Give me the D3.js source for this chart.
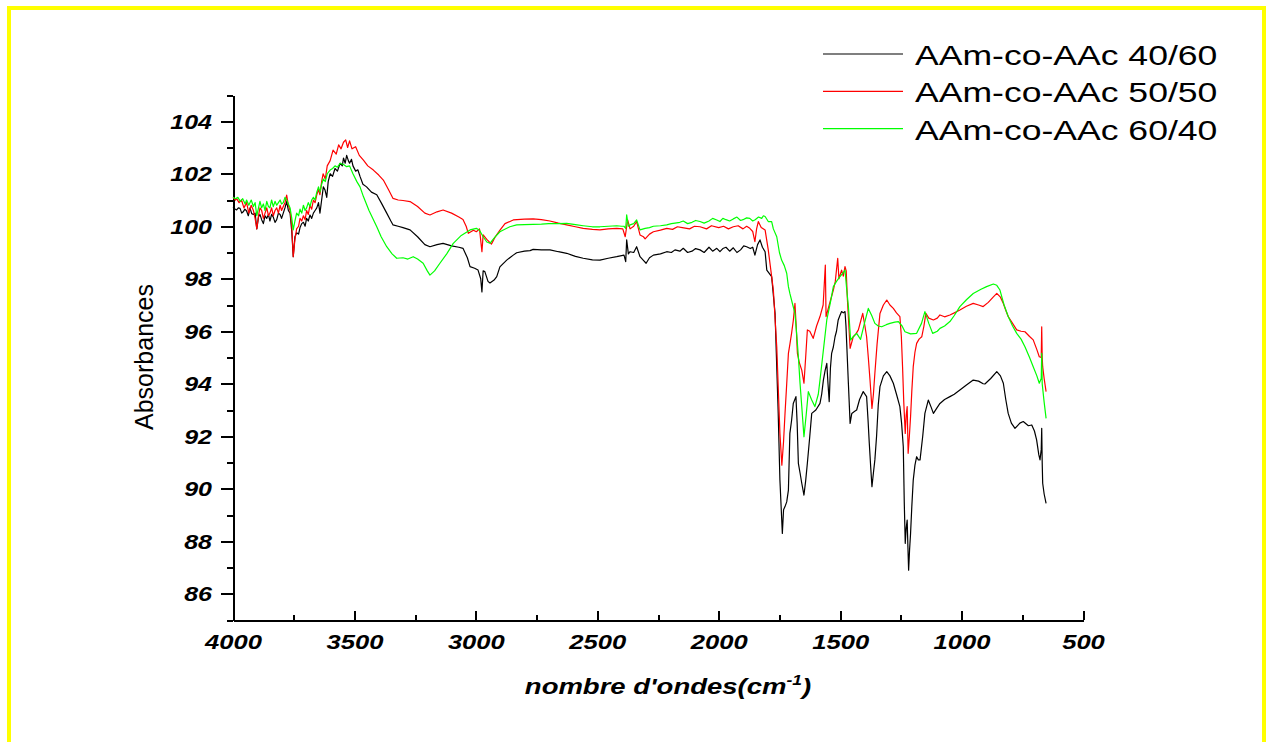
<!DOCTYPE html>
<html>
<head>
<meta charset="utf-8">
<script src="https://d3js.org/d3.v7.min.js"></script>
<style>
	html, body {
		margin: 0;
		padding: 0;
		background: #fff;
	}
	svg {
		display: block;
		font-family: 'Liberation Sans', Arial, sans-serif;
	}
	.axis path, .axis line {
		stroke: #000;
		stroke-width: 2px;
		shape-rendering: crispEdges;
	}
	.tick-label {
		font-weight: bold;
		font-style: italic;
		fill: #000;
	}
	.spectrum {
		fill: none;
		stroke-width: 1.2px;
		stroke-linejoin: round;
	}
</style>
</head>
<body>
<script>

// FTIR spectra, [wavenumber (cm-1), absorbance]
var seriesNames = ["AAm-co-AAc 40/60", "AAm-co-AAc 50/50", "AAm-co-AAc 60/40"];
var seriesColors = ["#000000", "#ff0000", "#00ff00"];

var spec40_60 = [
	[4000,100.72],[3992,100.66],[3985,100.62],[3978,100.7],[3971,100.68],[3964,100.5],[3958,100.55],[3951,100.65],[3944,100.58],[3937,100.4],
	[3930,100.7],[3923,100.48],[3916,100.45],[3909,100.5],[3902,99.9],[3895,100.35],[3889,100.45],[3882,100.25],[3875,100.1],[3868,100.4],
	[3861,100.3],[3854,100.45],[3848,100.2],[3841,100.45],[3834,100.35],[3827,100.15],[3820,100.25],[3813,100.5],[3806,100.45],[3800,100.3],
	[3793,100.5],[3786,100.7],[3779,100.95],[3772,100.6],[3765,100.5],[3758,99.8],[3752,98.84],[3745,99.6],[3738,99.75],[3730,99.7],
	[3724,99.95],[3717,100.1],[3710,100.15],[3703,100.0],[3697,100.3],[3690,100.2],[3683,100.43],[3676,100.3],[3669,100.5],[3662,100.6],
	[3655,100.7],[3648,100.9],[3642,100.5],[3635,101.0],[3628,101.5],[3621,101.38],[3614,101.1],[3608,101.7],[3600,102.0],[3590,101.9],
	[3580,102.2],[3570,102.1],[3559,102.4],[3550,102.3],[3545,102.6],[3538,102.4],[3532,102.7],[3525,102.5],[3520,102.4],[3512,102.55],
	[3506,102.3],[3495,102.1],[3486,102.15],[3477,101.9],[3465,101.6],[3450,101.5],[3430,101.3],[3408,101.2],[3390,100.9],[3367,100.5],
	[3350,100.2],[3341,100.05],[3320,100.0],[3300,99.95],[3271,99.86],[3240,99.6],[3210,99.3],[3189,99.22],[3160,99.3],[3135,99.35],
	[3100,99.25],[3070,99.2],[3053,99.16],[3035,98.8],[3024,98.46],[3005,98.4],[2991,98.33],[2980,98.0],[2975,97.5],[2970,98.3],
	[2963,98.27],[2950,97.9],[2942,97.84],[2925,97.95],[2914,98.08],[2901,98.45],[2873,98.71],[2846,98.9],[2832,98.99],[2800,99.05],
	[2777,99.07],[2764,99.12],[2730,99.1],[2695,99.1],[2660,99.03],[2626,98.97],[2590,98.85],[2558,98.78],[2520,98.72],[2489,98.71],
	[2455,98.78],[2420,98.84],[2400,98.88],[2390,98.9],[2383,98.65],[2379,99.48],[2372,98.95],[2365,99.03],[2350,99.0],[2338,99.22],
	[2324,98.84],[2310,98.7],[2299,98.59],[2285,98.8],[2269,98.9],[2240,98.95],[2214,99.03],[2195,99.0],[2180,99.1],[2160,99.05],
	[2146,99.16],[2128,99.0],[2110,99.05],[2095,99.15],[2077,99.1],[2060,99.0],[2040,99.2],[2025,99.05],[2008,99.16],[1995,99.03],
	[1983,99.15],[1970,99.2],[1955,99.05],[1940,99.18],[1925,99.0],[1910,99.1],[1897,99.25],[1885,99.22],[1870,99.15],[1860,99.2],
	[1851,98.9],[1840,99.3],[1830,99.48],[1820,99.2],[1809,99.03],[1802,98.33],[1782,98.08],[1768,96.68],[1755,92.87],[1748,90.33],
	[1738,88.3],[1733,89.2],[1727,89.32],[1720,89.5],[1713,89.95],[1707,92.11],[1700,92.6],[1693,93.25],[1682,93.51],[1677,92.5],
	[1672,90.97],[1665,90.6],[1658,90.21],[1649,89.76],[1642,90.3],[1635,90.97],[1625,92.0],[1617,92.87],[1600,93.0],[1583,93.25],
	[1576,93.6],[1569,94.14],[1562,94.5],[1555,94.78],[1550,94.0],[1545,93.32],[1540,94.6],[1535,95.16],[1528,95.4],[1521,95.79],
	[1515,96.0],[1508,96.43],[1501,96.6],[1494,96.75],[1487,96.7],[1480,96.75],[1476,96.2],[1473,95.54],[1466,94.0],[1459,92.49],
	[1452,92.87],[1440,92.95],[1432,93.0],[1420,93.4],[1405,93.7],[1391,93.51],[1385,92.6],[1380,91.73],[1374,90.8],[1369,90.08],
	[1363,90.6],[1357,91.1],[1350,92.0],[1343,93.2],[1336,93.89],[1322,94.3],[1308,94.46],[1295,94.3],[1281,94.02],[1268,93.6],
	[1254,93.13],[1247,92.5],[1240,91.6],[1236,89.5],[1232,87.92],[1228,88.5],[1224,88.81],[1221,87.8],[1218,86.9],[1214,87.7],
	[1210,88.3],[1205,89.3],[1199,90.33],[1192,90.9],[1185,91.22],[1178,91.1],[1171,91.1],[1160,92.0],[1151,92.87],[1137,93.38],
	[1125,93.1],[1116,92.87],[1100,93.1],[1089,93.25],[1070,93.4],[1048,93.51],[1030,93.6],[1007,93.76],[980,93.95],[952,94.14],
	[930,94.1],[911,94.0],[904,93.99],[880,94.2],[855,94.46],[840,94.3],[828,94.02],[818,93.4],[808,92.87],[795,92.5],
	[780,92.3],[760,92.5],[746,92.56],[725,92.4],[711,92.43],[700,92.2],[691,91.86],[682,91.3],[677,91.1],[672,91.5],
	[670,92.3],[668,91.0],[666,90.21],[660,89.8],[652,89.44]
];

var spec50_50 = [
	[4000,101.1],[3990,101.0],[3985,101.05],[3975,100.9],[3965,101.0],[3955,100.7],[3944,100.9],[3935,100.5],[3925,100.8],[3916,100.6],
	[3909,100.3],[3902,99.9],[3895,100.4],[3889,100.7],[3882,100.6],[3875,100.3],[3868,100.5],[3861,100.7],[3854,100.4],[3848,100.5],
	[3841,100.7],[3834,100.4],[3827,100.6],[3820,100.7],[3813,100.5],[3806,100.8],[3800,100.6],[3793,100.75],[3786,100.9],[3779,101.19],
	[3772,100.8],[3765,100.6],[3758,100.0],[3752,98.84],[3745,99.5],[3738,99.9],[3730,100.0],[3724,100.3],[3717,100.2],[3710,100.4],
	[3703,100.25],[3697,100.6],[3690,100.45],[3683,100.8],[3676,100.65],[3669,101.0],[3662,100.9],[3655,101.2],[3648,101.4],[3642,101.2],
	[3635,101.7],[3629,102.0],[3620,101.8],[3612,102.3],[3600,102.5],[3588,102.9],[3575,102.75],[3565,103.1],[3555,102.95],[3545,103.2],
	[3536,103.29],[3528,103.0],[3520,103.25],[3510,102.95],[3495,103.03],[3480,102.7],[3463,102.52],[3445,102.3],[3422,102.14],[3400,101.95],
	[3381,101.76],[3360,101.4],[3341,101.06],[3320,101.0],[3300,100.98],[3271,100.94],[3240,100.75],[3210,100.5],[3189,100.43],[3160,100.55],
	[3135,100.62],[3100,100.5],[3070,100.35],[3053,100.26],[3040,100.0],[3031,99.73],[3010,99.85],[2998,99.79],[2985,99.9],[2975,99.03],
	[2970,99.67],[2955,99.5],[2936,99.32],[2920,99.6],[2900,99.86],[2880,100.1],[2846,100.24],[2800,100.27],[2764,100.28],[2730,100.25],
	[2695,100.2],[2660,100.12],[2626,100.05],[2590,99.98],[2558,99.92],[2520,99.88],[2489,99.86],[2455,99.9],[2420,99.92],[2395,99.9],
	[2385,99.6],[2375,100.24],[2365,99.9],[2350,100.0],[2338,100.18],[2324,99.67],[2310,99.6],[2303,99.52],[2285,99.7],[2269,99.79],
	[2240,99.85],[2214,99.92],[2190,99.88],[2170,99.98],[2150,99.95],[2120,99.9],[2100,100.0],[2077,99.98],[2050,99.9],[2030,100.02],
	[2000,99.95],[1980,100.0],[1960,99.9],[1940,99.98],[1920,100.02],[1900,99.9],[1885,100.0],[1872,99.92],[1860,99.8],[1851,99.41],
	[1844,99.9],[1837,100.18],[1825,99.95],[1809,99.86],[1796,99.1],[1785,98.3],[1775,97.57],[1761,95.41],[1748,92.11],[1740,90.9],
	[1733,91.8],[1727,92.87],[1720,94.0],[1713,95.16],[1707,95.5],[1700,95.92],[1693,96.4],[1686,97.06],[1681,96.2],[1676,95.16],
	[1668,94.8],[1658,94.52],[1649,94.02],[1642,95.0],[1635,96.05],[1625,96.0],[1611,95.73],[1597,96.2],[1583,96.56],[1570,97.0],
	[1561,98.52],[1558,96.56],[1545,97.0],[1528,97.57],[1520,97.9],[1510,98.78],[1505,98.0],[1494,98.33],[1487,98.1],[1480,98.46],
	[1475,98.3],[1470,97.19],[1459,95.35],[1446,95.79],[1435,95.9],[1425,96.05],[1415,96.4],[1407,96.68],[1398,96.2],[1391,95.79],
	[1384,95.0],[1377,94.14],[1369,93.06],[1363,93.6],[1357,94.4],[1348,95.5],[1336,96.68],[1322,97.0],[1308,97.19],[1295,97.0],
	[1281,96.87],[1268,96.7],[1254,96.56],[1248,95.8],[1243,94.65],[1238,93.3],[1232,92.11],[1228,92.8],[1224,93.13],[1220,91.35],
	[1215,92.0],[1210,92.75],[1205,93.7],[1199,94.65],[1192,95.2],[1185,95.54],[1175,95.7],[1164,95.79],[1155,96.2],[1147,96.68],
	[1135,96.5],[1116,96.43],[1100,96.5],[1089,96.62],[1070,96.55],[1048,96.62],[1030,96.7],[1007,96.81],[980,96.95],[952,97.06],
	[930,97.0],[911,96.94],[890,97.1],[870,97.3],[855,97.44],[840,97.3],[828,97.06],[818,96.8],[808,96.56],[790,96.3],
	[773,96.05],[755,96.0],[739,95.98],[720,95.8],[705,95.67],[690,95.3],[680,95.03],[672,95.0],[670,96.17],[668,95.0],
	[666,94.65],[660,94.2],[652,93.7]
];

var spec60_40 = [
	[4000,101.1],[3990,101.05],[3980,101.1],[3970,100.95],[3960,101.05],[3950,100.85],[3944,101.0],[3935,100.8],[3925,101.0],[3916,100.75],
	[3909,100.9],[3902,100.4],[3895,100.7],[3889,100.95],[3882,100.7],[3875,100.85],[3868,100.6],[3861,100.95],[3854,100.75],[3848,100.7],
	[3841,101.0],[3834,100.75],[3827,100.95],[3820,100.8],[3813,100.9],[3806,101.0],[3800,100.85],[3793,100.9],[3786,101.1],[3779,101.0],
	[3772,100.85],[3765,100.7],[3758,100.3],[3752,99.86],[3745,100.2],[3738,100.5],[3730,100.4],[3724,100.65],[3717,100.5],[3710,100.8],
	[3703,100.6],[3697,100.7],[3690,100.9],[3683,100.75],[3676,101.0],[3669,101.1],[3662,101.0],[3655,101.3],[3648,101.5],[3642,101.3],
	[3635,101.6],[3628,101.8],[3620,101.7],[3612,102.0],[3600,102.14],[3590,102.2],[3580,102.3],[3570,102.25],[3559,102.4],[3545,102.35],
	[3532,102.27],[3520,102.3],[3506,102.0],[3490,101.7],[3477,101.5],[3463,101.13],[3440,100.6],[3408,99.98],[3390,99.6],[3367,99.22],
	[3345,98.95],[3326,98.78],[3300,98.8],[3280,98.75],[3258,98.84],[3240,98.75],[3217,98.59],[3200,98.3],[3189,98.14],[3170,98.3],
	[3148,98.59],[3120,98.95],[3093,99.35],[3060,99.65],[3024,99.86],[2998,99.92],[2985,99.85],[2970,99.6],[2955,99.4],[2942,99.35],
	[2925,99.55],[2901,99.79],[2887,99.86],[2860,99.98],[2832,100.05],[2800,100.06],[2764,100.07],[2730,100.08],[2700,100.1],[2660,100.1],
	[2626,100.11],[2590,100.06],[2558,100.02],[2520,99.98],[2489,99.98],[2455,100.0],[2420,100.02],[2400,100.0],[2390,100.0],[2383,99.92],
	[2379,100.43],[2372,100.0],[2365,100.05],[2350,100.1],[2338,100.24],[2324,99.86],[2303,99.92],[2285,99.95],[2269,100.0],[2240,100.02],
	[2214,100.05],[2195,100.1],[2180,100.12],[2160,100.15],[2146,100.2],[2128,100.1],[2110,100.15],[2095,100.22],[2077,100.18],[2060,100.12],
	[2040,100.2],[2025,100.3],[2008,100.24],[1995,100.18],[1983,100.3],[1970,100.25],[1955,100.2],[1940,100.28],[1925,100.35],[1910,100.22],
	[1900,100.25],[1885,100.32],[1872,100.3],[1860,100.2],[1850,100.25],[1836,100.35],[1823,100.3],[1816,100.4],[1809,100.37],[1796,100.18],
	[1782,100.18],[1775,99.9],[1761,99.6],[1750,99.0],[1741,98.71],[1730,98.5],[1720,98.21],[1713,97.7],[1707,97.44],[1695,97.0],
	[1686,96.68],[1679,95.9],[1672,95.03],[1665,94.0],[1658,93.13],[1649,91.98],[1640,92.8],[1631,93.7],[1618,93.4],[1604,93.13],
	[1590,93.6],[1583,94.14],[1570,95.2],[1555,96.43],[1540,97.1],[1528,97.7],[1515,97.9],[1501,98.08],[1490,98.2],[1480,98.33],
	[1473,97.6],[1466,96.94],[1457,95.67],[1445,95.8],[1432,95.92],[1416,95.69],[1400,96.3],[1384,96.87],[1370,96.6],[1357,96.3],
	[1343,96.2],[1329,96.17],[1310,96.25],[1295,96.3],[1275,96.35],[1260,96.37],[1245,96.2],[1233,95.98],[1210,95.9],[1185,95.92],
	[1165,96.3],[1151,96.75],[1135,96.3],[1119,95.92],[1100,96.0],[1089,96.11],[1070,96.2],[1048,96.37],[1030,96.6],[1007,96.94],
	[980,97.2],[952,97.44],[920,97.6],[897,97.7],[869,97.8],[855,97.75],[842,97.57],[825,97.0],[808,96.56],[790,96.2],
	[773,95.92],[755,95.7],[739,95.41],[720,95.0],[705,94.65],[690,94.3],[680,94.02],[672,94.2],[670,95.16],[668,94.0],
	[660,93.3],[652,92.68]
];

var allSpectra = [spec40_60, spec50_50, spec60_40];

var xMajorTicks = [4000, 3500, 3000, 2500, 2000, 1500, 1000, 500];
var xMinorTicks = [3750, 3250, 2750, 2250, 1750, 1250, 750];
var yMajorTicks = [86, 88, 90, 92, 94, 96, 98, 100, 102, 104];
var yMinorTicks = [85, 87, 89, 91, 93, 95, 97, 99, 101, 103, 105];

var width = 1266, height = 742;
var margin = {top: 95, right: 183, bottom: 122, left: 233};

var svg = d3.select("body").append("svg")
	.attr("width", width)
	.attr("height", height);

svg.append("rect")
	.attr("width", width)
	.attr("height", height)
	.attr("fill", "#fff");

// yellow frame (bottom edge falls outside the picture)
svg.append("rect")
	.attr("x", 9)
	.attr("y", 8)
	.attr("width", 1255)
	.attr("height", 780)
	.attr("fill", "none")
	.attr("stroke", "#ffff00")
	.attr("stroke-width", 4);

var x = d3.scaleLinear()
	.domain([4000, 500])
	.range([margin.left, width - margin.right]);

var y = d3.scaleLinear()
	.domain([85, 105])
	.range([height - margin.bottom, margin.top]);

// y axis: minor then major ticks
svg.append("g")
	.attr("class", "axis")
	.attr("transform", "translate(" + margin.left + ",0)")
	.call(d3.axisLeft(y).tickValues(yMinorTicks).tickSize(6).tickSizeOuter(0).tickFormat(""));

var yAx = svg.append("g")
	.attr("class", "axis")
	.attr("transform", "translate(" + margin.left + ",0)")
	.call(d3.axisLeft(y).tickValues(yMajorTicks).tickSize(12).tickSizeOuter(0).tickFormat(d3.format("d")));

yAx.select(".domain").remove();
yAx.selectAll(".tick text")
	.attr("class", "tick-label")
	.style("font-size", "20px")
	.attr("text-anchor", "end")
	.attr("x", -21 / 1.25)
	.attr("dy", "0.36em")
	.attr("transform", "scale(1.25,1)");

// x axis, ticks pointing inward
var xBase = height - margin.bottom;
svg.append("g")
	.attr("class", "axis")
	.attr("transform", "translate(0," + xBase + ")")
	.call(d3.axisBottom(x).tickValues(xMinorTicks).tickSize(-5).tickSizeOuter(0).tickFormat(""));

var xAx = svg.append("g")
	.attr("class", "axis")
	.attr("transform", "translate(0," + xBase + ")")
	.call(d3.axisBottom(x).tickValues(xMajorTicks).tickSize(-9).tickSizeOuter(0).tickFormat(d3.format("d")));

xAx.select(".domain").remove();
xAx.selectAll(".tick text")
	.attr("class", "tick-label")
	.style("font-size", "21px")
	.attr("text-anchor", "middle")
	.attr("x", 0)
	.attr("y", 29)
	.attr("dy", 0)
	.attr("transform", "scale(1.22,1)");

// spectra
var line = d3.line()
	.x(function(d){ return x(d[0]); })
	.y(function(d){ return y(d[1]); });

svg.selectAll(".spectrum")
	.data(allSpectra)
	.enter()
	.append("path")
	.attr("class", "spectrum")
	.attr("stroke", function(d, i){ return seriesColors[i]; })
	.attr("d", line);

// axis titles
var xTitle = svg.append("text")
	.attr("transform", "translate(668,694) scale(1.25,1)")
	.attr("text-anchor", "middle")
	.style("font-size", "22px")
	.style("font-weight", "bold")
	.style("font-style", "italic");
xTitle.append("tspan").text("nombre d'ondes(cm");
xTitle.append("tspan").attr("dy", -9).style("font-size", "14px").text("-1");
xTitle.append("tspan").attr("dy", 9).text(")");

svg.append("text")
	.attr("transform", "translate(153,357) rotate(-90)")
	.attr("text-anchor", "middle")
	.style("font-size", "25px")
	.text("Absorbances");

// legend
var legend = svg.selectAll(".legend")
	.data(seriesNames)
	.enter()
	.append("g")
	.attr("class", "legend")
	.attr("transform", function(d, i){ return "translate(823," + (54 + i * 37.3) + ")"; });

legend.append("line")
	.attr("x1", 0)
	.attr("x2", 80)
	.attr("stroke", function(d, i){ return seriesColors[i]; })
	.attr("stroke-width", 1.2);

legend.append("text")
	.attr("transform", "translate(92,11) scale(1.27,1)")
	.style("font-size", "28px")
	.text(function(d){ return d; });

</script>
</body>
</html>
